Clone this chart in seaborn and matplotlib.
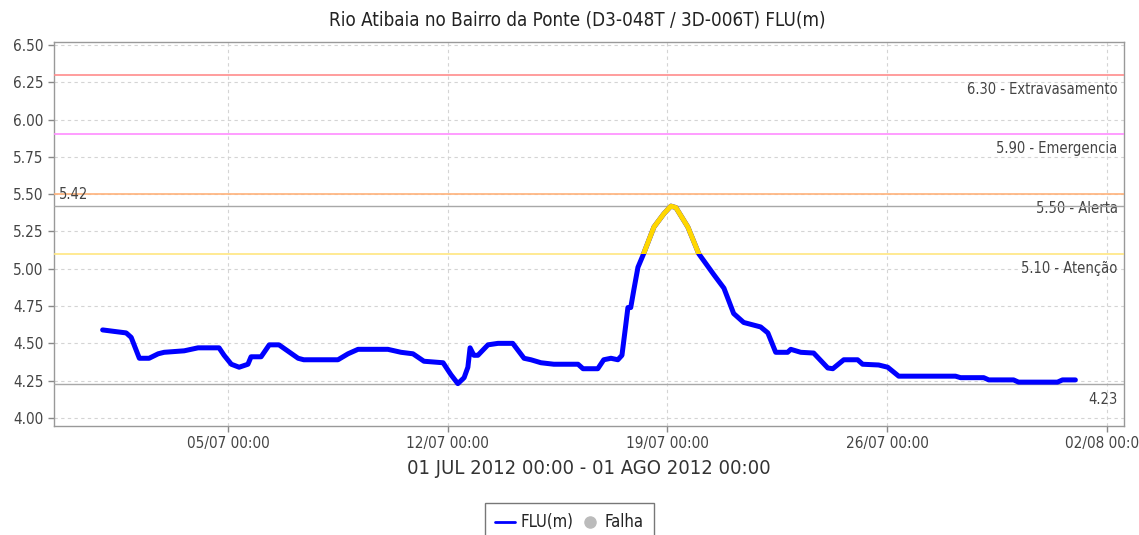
import matplotlib
matplotlib.use("Agg")
import numpy as np
import pandas as pd
import matplotlib.pyplot as plt
import matplotlib.dates as mdates
import matplotlib.transforms as mtransforms
from matplotlib.patches import Rectangle
from matplotlib.lines import Line2D
import seaborn as sns

# ---------------- data ----------------
title = "Rio Atibaia no Bairro da Ponte (D3-048T / 3D-006T) FLU(m)"
period_label = "01 JUL 2012 00:00 - 01 AGO 2012 00:00"
start = "2012-07-01 00:00"

days = [0.00, 0.37, 0.75, 0.91, 1.17, 1.48, 1.77, 1.96, 2.60, 3.04,
        3.71, 3.87, 4.10, 4.35, 4.63, 4.73, 5.05, 5.31, 5.62, 6.23,
        6.41, 7.50, 7.82, 8.14, 9.09, 9.51, 9.89, 10.24, 10.85, 11.10,
        11.32, 11.52, 11.64, 11.71, 11.83, 11.96, 12.28, 12.60, 13.07, 13.43,
        13.65, 13.97, 14.38, 15.15, 15.31, 15.78, 15.97, 16.20, 16.42, 16.55,
        16.67, 16.74, 16.83, 16.93, 17.06, 17.22, 17.57, 17.89, 18.11, 18.27,
        18.65, 19.00, 19.48, 19.80, 20.11, 20.43, 20.97, 21.20, 21.45, 21.83,
        21.93, 22.25, 22.66, 23.11, 23.27, 23.62, 24.06, 24.22, 24.73, 25.02,
        25.37, 27.18, 27.34, 28.08, 28.24, 29.03, 29.19, 30.43, 30.59, 31.00]
level = [4.59, 4.58, 4.57, 4.54, 4.40, 4.40, 4.43, 4.44, 4.45, 4.47,
         4.47, 4.42, 4.36, 4.34, 4.36, 4.41, 4.41, 4.49, 4.49, 4.40,
         4.39, 4.39, 4.43, 4.46, 4.46, 4.44, 4.43, 4.38, 4.37, 4.29,
         4.23, 4.27, 4.34, 4.47, 4.42, 4.42, 4.49, 4.50, 4.50, 4.40,
         4.39, 4.37, 4.36, 4.36, 4.33, 4.33, 4.39, 4.40, 4.39, 4.42,
         4.62, 4.74, 4.74, 4.86, 5.01, 5.09, 5.28, 5.37, 5.42, 5.41,
         5.28, 5.10, 4.96, 4.87, 4.70, 4.64, 4.61, 4.57, 4.44, 4.44,
         4.46, 4.44, 4.435, 4.335, 4.33, 4.39, 4.39, 4.36, 4.355, 4.34,
         4.28, 4.28, 4.27, 4.27, 4.255, 4.255, 4.24, 4.24, 4.255, 4.255]

thr_values = [6.30, 5.90, 5.50, 5.10]
thr_names = ["Extravasamento", "Emergencia", "Alerta", "Atenção"]
thr_colors = ["#ff8c8c", "#ff8cff", "#ffb27a", "#ffe680"]

min_value = 4.23
max_value = 5.42

y_ticks = [4.00, 4.25, 4.50, 4.75, 5.00, 5.25, 5.50, 5.75, 6.00, 6.25, 6.50]
x_tick_dates = ["2012-07-05", "2012-07-12", "2012-07-19", "2012-07-26", "2012-08-02"]

legend_labels = ["FLU(m)", "Falha"]

# ---------------- build ----------------
t0 = pd.Timestamp(start)
df = pd.DataFrame({"time": t0 + pd.to_timedelta(days, unit="D"), "level": level})

sns.set_theme(style="white")
plt.rcParams["font.family"] = ["DejaVu Sans"]
plt.rcParams["font.stretch"] = "condensed"

fig = plt.figure(figsize=(11.39, 5.35), dpi=100)
ax = fig.add_axes([54 / 1139, 1 - 426 / 535, (1124 - 54) / 1139, (426 - 42) / 535])

# main (blue) line
sns.lineplot(data=df, x="time", y="level", ax=ax, color="#0000ff", linewidth=3.6,
             zorder=5, solid_capstyle="round", solid_joinstyle="round")
# overlay above 'Atenção' threshold in yellow
sns.lineplot(data=df, x="time", y="level", ax=ax, color="#ffd700", linewidth=3.6,
             zorder=6, solid_capstyle="round", solid_joinstyle="round")
yellow = ax.lines[-1]

ax.set_ylim(3.946, 6.52)
ax.margins(x=0.05)
xmin, xmax = ax.get_xlim()
clip = Rectangle((xmin, thr_values[-1]), xmax - xmin, 10, transform=ax.transData,
                 facecolor="none", edgecolor="none")
yellow.set_clip_path(clip)

# thresholds
trans = mtransforms.blended_transform_factory(ax.transAxes, ax.transData)
for v, name, c in zip(thr_values, thr_names, thr_colors):
    ax.axhline(v, color=c, linewidth=1.2, zorder=3)
    ax.annotate(f"{v:.2f} - {name}", xy=(0.994, v), xycoords=trans,
                xytext=(0, -7), textcoords="offset pixels", ha="right", va="top",
                fontsize=10.5, color="#444444")

# min / max markers
ax.axhline(max_value, color="#a8a8a8", linewidth=1.0, zorder=3)
ax.axhline(min_value, color="#a8a8a8", linewidth=1.0, zorder=3)
ax.annotate(f"{max_value:.2f}", xy=(0.005, max_value), xycoords=trans,
            xytext=(0, 4), textcoords="offset pixels", ha="left", va="bottom",
            fontsize=10.5, color="#444444")
ax.annotate(f"{min_value:.2f}", xy=(0.994, min_value), xycoords=trans,
            xytext=(0, -8), textcoords="offset pixels", ha="right", va="top",
            fontsize=10.5, color="#444444")

# axes formatting
ax.set_yticks(y_ticks)
ax.yaxis.set_major_formatter(matplotlib.ticker.FormatStrFormatter("%.2f"))
ax.set_xticks(pd.to_datetime(x_tick_dates))
ax.xaxis.set_major_formatter(mdates.DateFormatter("%d/%m %H:%M"))
ax.tick_params(axis="both", which="major", labelsize=11, labelcolor="#444444",
               color="#888888", length=4, width=1, direction="out",
               left=True, bottom=True)
ax.tick_params(axis="x", pad=3)
ax.grid(True, color="#d4d4d4", linestyle=(0, (3, 3)), linewidth=0.8)
for s in ax.spines.values():
    s.set_color("#999999")
    s.set_linewidth(1.0)
ax.set_ylabel("")
ax.set_xlabel(period_label, fontsize=14.5, color="#333333", labelpad=6)
fig.text(577 / 1139, 1 - 20 / 535, title, fontsize=13.5, color="#222222",
         ha="center", va="center")

handles = [Line2D([], [], color="#0000ff", linewidth=2),
           Line2D([], [], color="#bbbbbb", marker="o", linestyle="none", markersize=8)]
leg = fig.legend(handles, legend_labels, loc="lower center", bbox_to_anchor=(0.5, -0.012),
                 ncol=2, frameon=True, fancybox=False, fontsize=12, handlelength=1.2,
                 handletextpad=0.3, columnspacing=0.4, borderpad=0.6,
                 borderaxespad=0.0)
leg.get_frame().set_edgecolor("#555555")
leg.get_frame().set_linewidth(1.0)
for txt in leg.get_texts():
    txt.set_color("#222222")

fig.savefig("out.png", dpi=100)
